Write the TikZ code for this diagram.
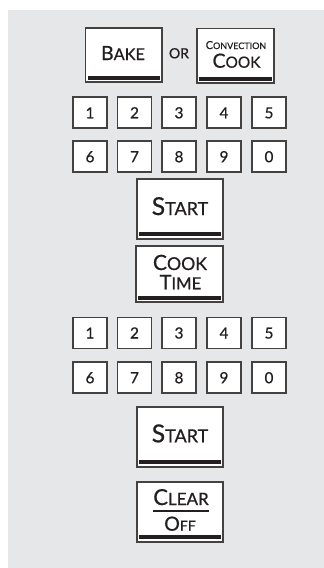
\documentclass[tikz,border=0pt]{standalone}
\usepackage{fontspec}
\setmainfont{Lato}[UprightFeatures={FakeBold=0.7}]
\definecolor{bg}{RGB}{230,231,232}
\definecolor{ink}{RGB}{35,31,32}
\newcommand\kcap[4]{{\fontsize{#1}{#1}\selectfont #3}{\fontsize{#2}{#2}\selectfont #4}}
\tikzset{
  key/.style={draw=ink!85, line width=1.3pt, fill=white, inner sep=0pt},
  digitkey/.style={key, minimum width=34pt, minimum height=31pt, font=\fontsize{15.3}{15.3}\selectfont, text=ink},
  lbl/.style={anchor=base, inner sep=0pt, text=ink},
  bar/.style={fill=ink}
}
\begin{document}
\begin{tikzpicture}[x=1pt,y=-1pt]
\useasboundingbox (0,0) rectangle (324,568);
\fill[bg] (8,10) rectangle (324,568);
% top row
\node[key, minimum width=76.7pt, minimum height=54pt] (bake) at (123.7,55) {};
\node[key, minimum width=77pt, minimum height=54.3pt] (conv) at (235.5,55.8) {};
\fill[bar] ([shift={(3,-3)}]bake.south west) rectangle ([shift={(-3,-6.5)}]bake.south east);
\fill[bar] ([shift={(3,-3)}]conv.south west) rectangle ([shift={(-3,-6.5)}]conv.south east);
\node[lbl] (baket) at (123,60) {\kcap{19.5}{16.3}{B}{AKE}};
\node[lbl] (ort) at (179,58.3) {\kcap{14}{14}{O}{R}};
\node[lbl] (convt) at (236,49) {\kcap{11}{9}{C}{ONVECTION}};
\node[lbl] (cookt) at (236.5,67.7) {\kcap{19.5}{15.4}{C}{OOK}};
% digit rows
\foreach \d/\x in {1/90,2/134.5,3/179,4/224,5/269}{
  \node[digitkey] (a\d) at (\x,112.5) {};
  \node[lbl, font=\fontsize{15.3}{15.3}\selectfont] (at\d) at (\x,118.3) {\d};
  \node[digitkey] (c\d) at (\x,333) {};
  \node[lbl, font=\fontsize{15.3}{15.3}\selectfont] (ct\d) at (\x,338.5) {\d};
}
\foreach \d/\x in {6/90,7/134.5,8/179,9/224,0/269}{
  \node[digitkey] (b\d) at (\x,156.5) {};
  \node[lbl, font=\fontsize{15.3}{15.3}\selectfont] (bt\d) at (\x,162.2) {\d};
  \node[digitkey] (d\d) at (\x,377.5) {};
  \node[lbl, font=\fontsize{15.3}{15.3}\selectfont] (dt\d) at (\x,383.2) {\d};
}
% start 1
\node[key, minimum width=86pt, minimum height=60pt] (start1) at (180,209) {};
\fill[bar] ([shift={(3,-3.3)}]start1.south west) rectangle ([shift={(-3,-7.3)}]start1.south east);
\node[lbl] (s1t) at (180,215) {\kcap{24.7}{18}{S}{TART}};
% cook time
\node[key, minimum width=87pt, minimum height=56pt] (cooktime) at (179.5,274) {};
\fill[bar] ([shift={(3,-3)}]cooktime.south west) rectangle ([shift={(-3,-7)}]cooktime.south east);
\node[lbl] (ctc) at (180,270) {\kcap{21}{17.7}{C}{OOK}};
\node[lbl] (ctt) at (180.5,289.3) {\kcap{20}{16.7}{T}{IME}};
% start 2
\node[key, minimum width=86pt, minimum height=60pt] (start2) at (180,437) {};
\fill[bar] ([shift={(3,-3.3)}]start2.south west) rectangle ([shift={(-3,-7.3)}]start2.south east);
\node[lbl] (s2t) at (180,442.3) {\kcap{24.7}{18}{S}{TART}};
% clear off
\node[key, minimum width=86pt, minimum height=60pt] (clear) at (180,512) {};
\fill[bar] ([shift={(3,-3.5)}]clear.south west) rectangle ([shift={(-3,-7.5)}]clear.south east);
\node[lbl] (clt) at (181,505) {\kcap{22}{17}{C}{LEAR}};
\draw[ink, line width=1.4pt] (153,511) -- (209,511);
\node[lbl] (oft) at (180,530.7) {\kcap{19.5}{14}{O}{FF}};
\end{tikzpicture}
\end{document}
